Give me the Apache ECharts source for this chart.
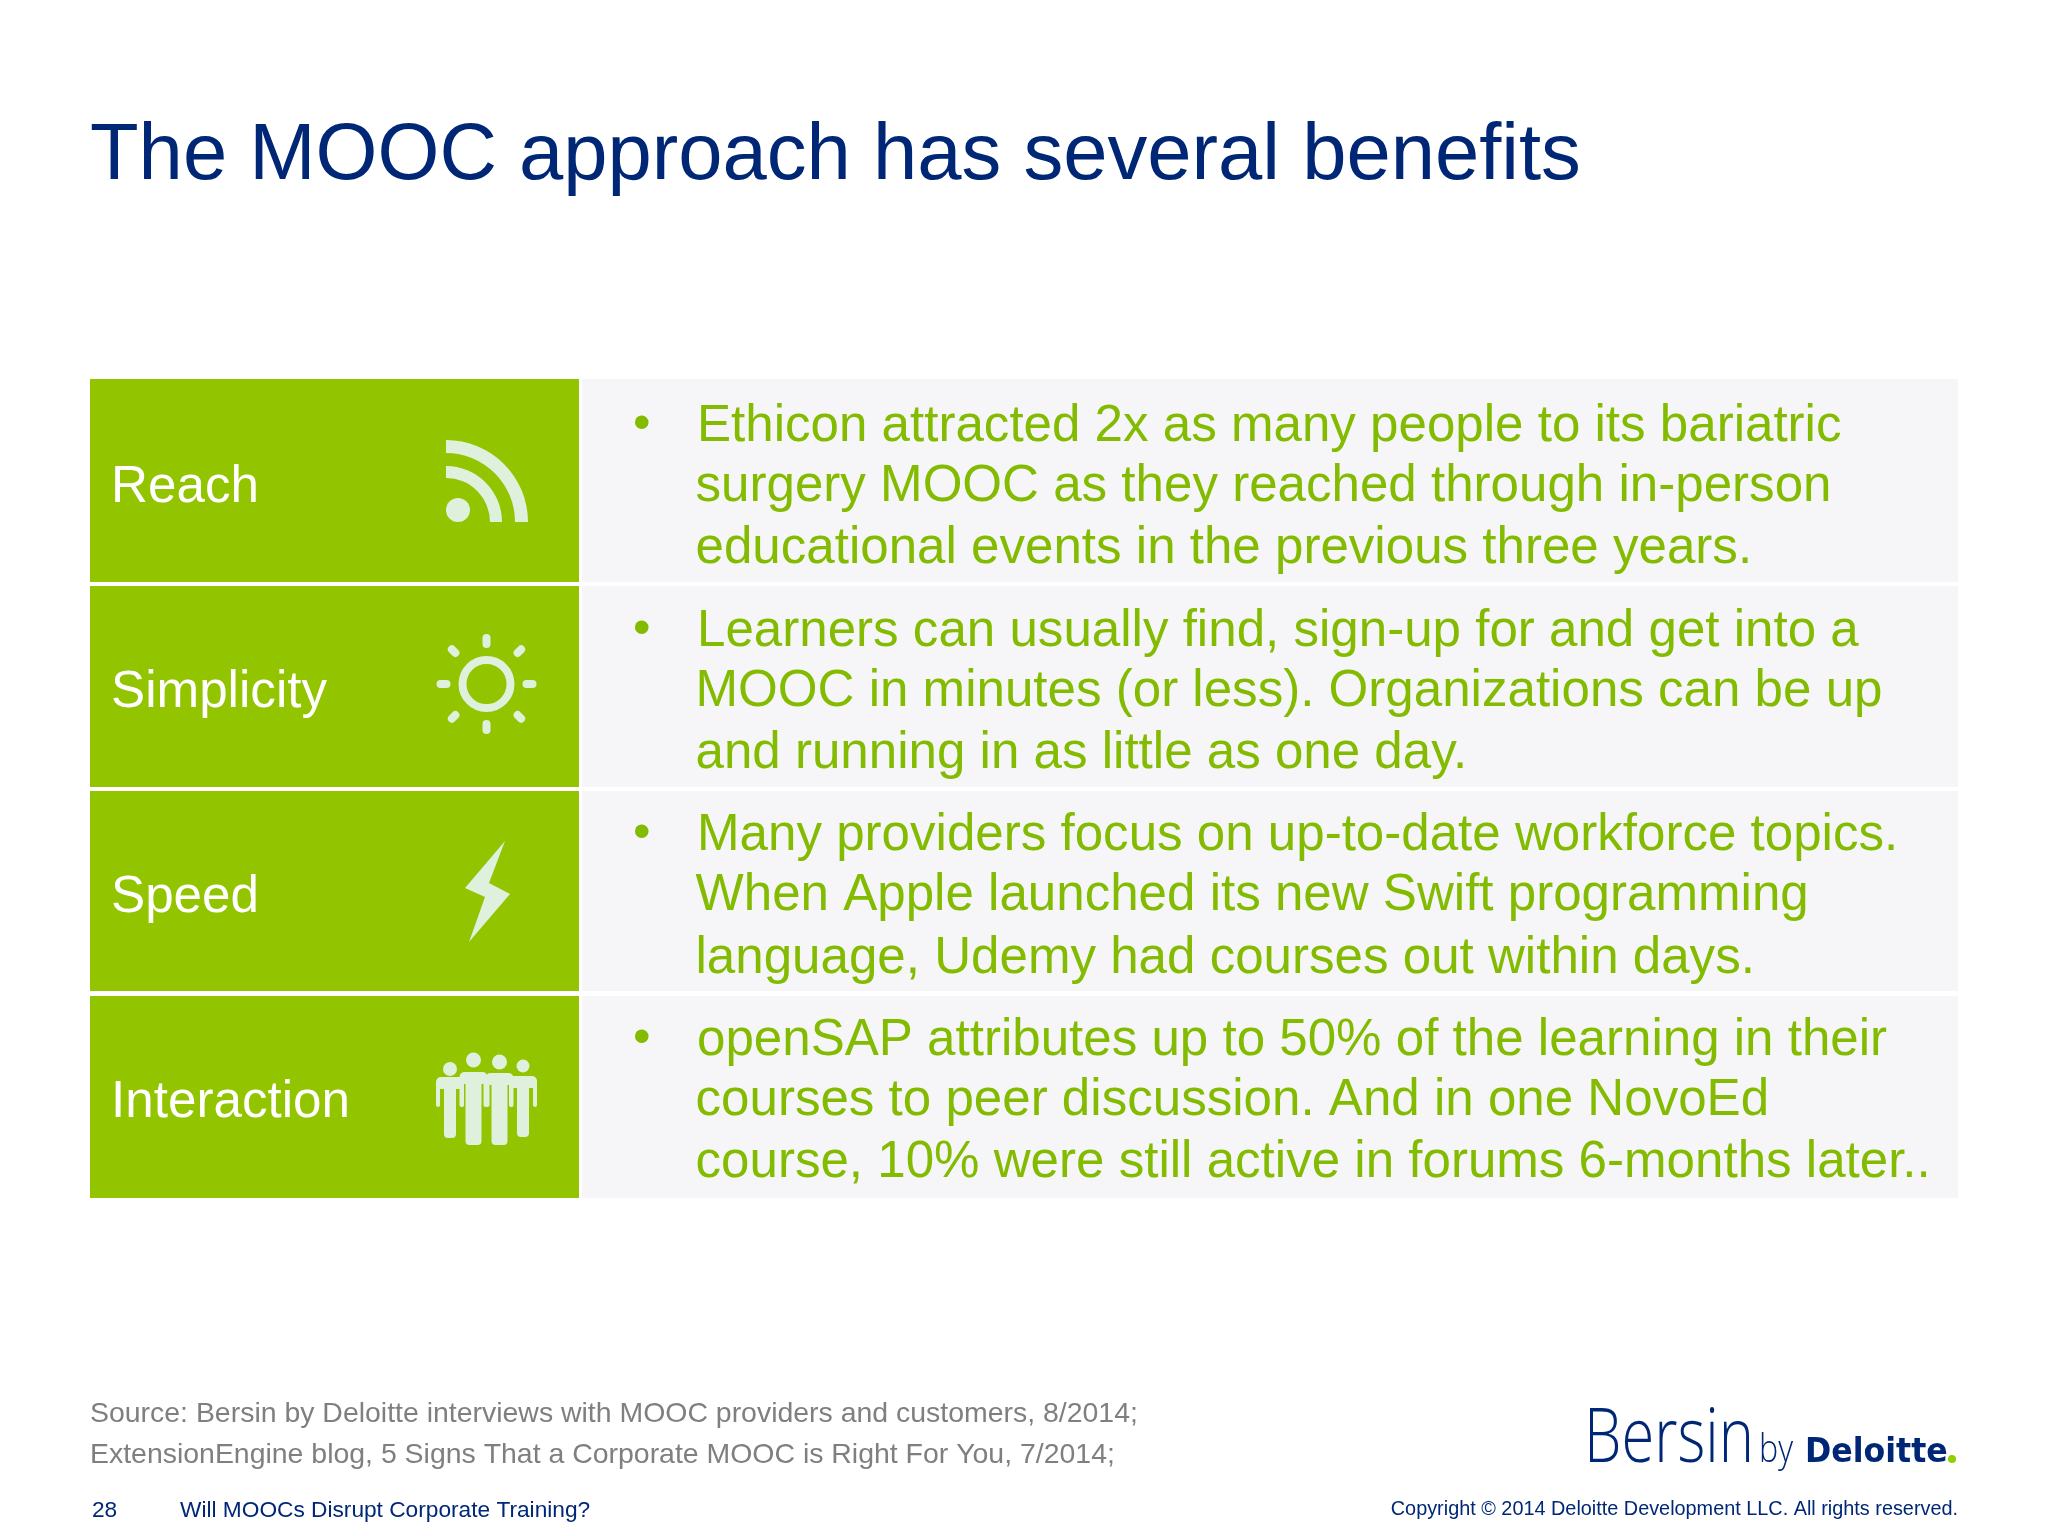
<!DOCTYPE html>
<html>
<head>
<meta charset="utf-8">
<style>
  html, body { margin: 0; background: #ffffff; }
  #slide { width: 2048px; height: 1536px; }
</style>
<script src="https://cdn.jsdelivr.net/npm/echarts@6/dist/echarts.min.js"></script>
</head>
<body>
<div id="slide"></div>
<script>
const titleText = 'The MOOC approach has several benefits'
const categories = ['Reach', 'Simplicity', 'Speed', 'Interaction']
const reachLines = [
  'Ethicon attracted 2x as many people to its bariatric',
  'surgery MOOC as they reached through in-person',
  'educational events in the previous three years.'
]
const simplicityLines = [
  'Learners can usually find, sign-up for and get into a',
  'MOOC in minutes (or less). Organizations can be up',
  'and running in as little as one day.'
]
const speedLines = [
  'Many providers focus on up-to-date workforce topics.',
  'When Apple launched its new Swift programming',
  'language, Udemy had courses out within days.'
]
const interactionLines = [
  'openSAP attributes up to 50% of the learning in their',
  'courses to peer discussion. And in one NovoEd',
  'course, 10% were still active in forums 6-months later..'
]
const sourceLines = [
  'Source: Bersin by Deloitte interviews with MOOC providers and customers, 8/2014;',
  'ExtensionEngine blog, 5 Signs That a Corporate MOOC is Right For You, 7/2014;'
]
const pageNumber = '28'
const footerTitle = 'Will MOOCs Disrupt Corporate Training?'
const copyrightText = 'Copyright \u00a9 2014 Deloitte Development LLC. All rights reserved.'

const NAVY = '#002776'
const GREEN = '#92c400'
const BODY_GREEN = '#82bb00'
const PANEL = '#f6f5f8'
const ICON = '#dff0dc'
const FONT = '"Liberation Sans", Arial, sans-serif'

let myChart = echarts.init(document.getElementById('slide'), null, { renderer: 'canvas' })

// text helper, y is the baseline (zrender anchors the top of the line box)
function label(x, y, text, size, color, extra, family) {
  return Object.assign({
    type: 'text',
    x: x,
    y: y - size * 0.8,
    silent: true,
    style: {
      text: text,
      fill: color,
      font: (family || size + 'px ' + FONT),
      textAlign: extra && extra.textAlign || 'left',
      verticalAlign: 'top'
    }
  }, extra && extra.scaleX ? { scaleX: extra.scaleX } : {})
}
function disc(cx, cy, r, color) {
  return { type: 'circle', shape: { cx: cx, cy: cy, r: r }, style: { fill: color || ICON }, silent: true }
}
function box(x, y, width, height, color, r) {
  return { type: 'rect', shape: { x: x, y: y, width: width, height: height, r: r || 0 }, style: { fill: color }, silent: true }
}

function rssIcon() {
  const cx = 446, cy = 522
  return [
    disc(458, 510, 12),
    { type: 'sector', silent: true, style: { fill: ICON },
      shape: { cx: cx, cy: cy, r0: 44, r: 56, startAngle: -Math.PI / 2, endAngle: 0, clockwise: true } },
    { type: 'sector', silent: true, style: { fill: ICON },
      shape: { cx: cx, cy: cy, r0: 69, r: 82, startAngle: -Math.PI / 2, endAngle: 0, clockwise: true } }
  ]
}
function sunIcon() {
  const cx = 486.5, cy = 684
  let items = [{ type: 'circle', silent: true, shape: { cx: cx, cy: cy, r: 24 },
    style: { fill: 'none', stroke: ICON, lineWidth: 8 } }]
  for (let i = 0; i < 8; i++) {
    const a = i * Math.PI / 4
    const r0 = i % 2 ? 44 : 40
    const r1 = i % 2 ? 49 : 46
    items.push({ type: 'line', silent: true,
      shape: { x1: cx + r0 * Math.cos(a), y1: cy + r0 * Math.sin(a), x2: cx + r1 * Math.cos(a), y2: cy + r1 * Math.sin(a) },
      style: { stroke: ICON, lineWidth: 8, lineCap: 'round' } })
  }
  return items
}
function boltIcon() {
  return [{ type: 'polygon', silent: true, style: { fill: ICON },
    shape: { points: [[505, 841], [465, 888], [485, 897], [469, 942], [510, 894], [489, 883]] } }]
}
function person(cx, headY, headR, top, halfTorso, halfArm, armBottom, bottom) {
  const armW = 4
  return [
    disc(cx, headY, headR),
    box(cx - halfArm, top, halfArm * 2, 12, ICON, 5),
    box(cx - halfTorso, top + 4, halfTorso * 2, bottom - top - 4, ICON, 4),
    box(cx - halfArm, top + 4, armW, armBottom - top - 4, ICON, 2),
    box(cx + halfArm - armW, top + 4, armW, armBottom - top - 4, ICON, 2)
  ]
}
function peopleIcon() {
  return [].concat(
    person(450, 1069, 7, 1077, 6, 14, 1107, 1138),
    person(523, 1066, 6.5, 1076, 6, 14, 1107, 1137),
    person(473.5, 1060, 7.5, 1072, 8, 14, 1107, 1145),
    person(499.5, 1062, 7.5, 1073, 8, 14, 1107, 1145)
  )
}

// row geometry
const rowTops = [379, 586, 791, 996]
const rowBottoms = [582, 787, 991, 1198]
const labelBaselines = [503, 708, 913, 1118]
const lineBaselines = [
  [442, 502, 564],
  [647, 707, 769],
  [851, 911, 974],
  [1056, 1116, 1178]
]
const rowLines = [reachLines, simplicityLines, speedLines, interactionLines]
const rowIcons = [rssIcon, sunIcon, boltIcon, peopleIcon]

let elements = []
elements.push(label(90, 180.5, titleText, 79.6, NAVY))

categories.forEach((name, i) => {
  const h = rowBottoms[i] - rowTops[i]
  elements.push(box(582, rowTops[i], 1376, h, PANEL))
  elements.push(box(90, rowTops[i], 489, h, GREEN))
  elements.push(label(111, labelBaselines[i], name, 51.2, '#ffffff'))
  elements = elements.concat(rowIcons[i]())
  elements.push(label(633, lineBaselines[i][0] - 2, '\u2022', 50, BODY_GREEN))
  rowLines[i].forEach((line, k) => {
    elements.push(label(k === 0 ? 697 : 695.5, lineBaselines[i][k], line, 51.1, BODY_GREEN))
  })
})

elements.push(label(90, 1423, sourceLines[0], 28.45, '#7f7f7f'))
elements.push(label(90, 1464, sourceLines[1], 28.45, '#7f7f7f'))
elements.push(label(92, 1517, pageNumber, 22.7, NAVY))
elements.push(label(180, 1517, footerTitle, 22.7, NAVY))
elements.push(label(1958, 1515, copyrightText, 19.85, NAVY, { textAlign: 'right' }))

// logo
elements.push(label(1584, 1463, 'Bersin', 76, NAVY, { scaleX: 0.785 }, '300 76px "Open Sans", ' + FONT))
elements.push(label(1759, 1463, 'by', 38, NAVY, { scaleX: 0.85 }, '300 38px "Open Sans", ' + FONT))
elements.push(label(1805, 1463, 'Deloitte', 34, NAVY, { scaleX: 0.93 }, 'bold 34px "DejaVu Sans", ' + FONT))
elements.push(disc(1952, 1459, 4, '#8fd000'))

let option = {
  animation: false,
  backgroundColor: '#ffffff',
  graphic: { elements: elements }
}
myChart.setOption(option)
</script>
</body>
</html>
